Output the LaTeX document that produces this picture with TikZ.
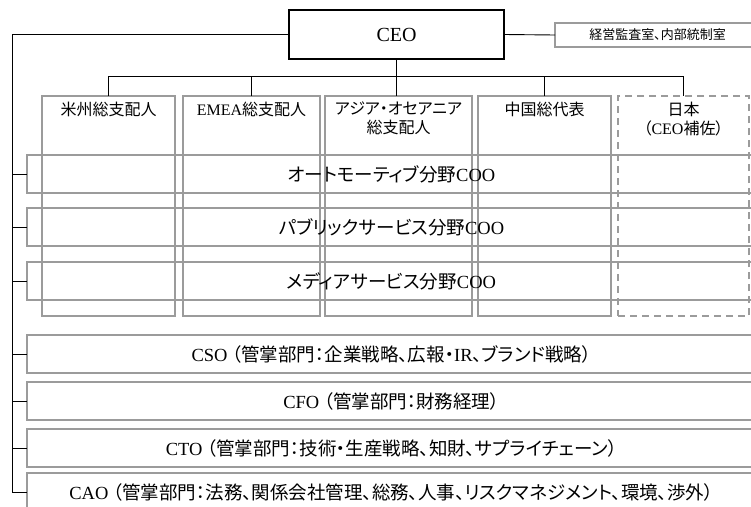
\documentclass[tikz,border=0pt]{standalone}
\usepackage{fontspec}
\setmainfont{Liberation Serif}
\newfontfamily\jp[RawFeature=+palt]{Noto Sans CJK JP}
\newcommand\J[1]{{\jp #1}}
\definecolor{boxgray}{RGB}{155,155,155}
\begin{document}
\begin{tikzpicture}[x=1pt,y=-1pt,
  graybox/.style={draw=boxgray, line width=1.6pt, rectangle, inner sep=0pt, outer sep=0pt},
  ceobox/.style={draw=black, line width=2.2pt, rectangle, inner sep=0pt, outer sep=0pt, font=\fontsize{20}{22}\selectfont},
  dashbox/.style={graybox, dash pattern=on 7pt off 5pt},
  collabel/.style={anchor=north, align=center, inner sep=0pt, font=\fontsize{16}{19}\selectfont},
  rowtext/.style={font=\fontsize{18.5}{21}\selectfont},
  conn/.style={draw=black, line width=0.9pt}]
\useasboundingbox (0,0) rectangle (751,506);
\clip (0,0) rectangle (751,506);

% top
\node[ceobox, minimum width=215pt, minimum height=49pt] (ceo) at (396.5,34.5) {CEO};
\node[graybox, minimum width=205pt, minimum height=24pt, font=\fontsize{13}{15}\selectfont\jp] (audit) at (657.5,35) {経営監査室、内部統制室};

% columns
\node[graybox, minimum width=133pt, minimum height=220pt] (c1) at (108.5,206) {};
\node[graybox, minimum width=137pt, minimum height=220pt] (c2) at (251.5,206) {};
\node[graybox, minimum width=147pt, minimum height=220pt] (c3) at (398.5,206) {};
\node[graybox, minimum width=133pt, minimum height=220pt] (c4) at (544.5,206) {};
\node[dashbox, minimum width=131pt, minimum height=220pt] (c5) at (683.5,206) {};

\node[collabel] (l1) at ([yshift=-6pt]c1.north) {\J{米州総支配人}};
\node[collabel] (l2) at ([yshift=-6pt]c2.north) {EMEA\J{総支配人}};
\node[collabel] (l3) at ([yshift=-6pt]c3.north) {\J{アジア・オセアニア}\\\J{総支配人}};
\node[collabel] (l4) at ([yshift=-6pt]c4.north) {\J{中国総代表}};
\node[collabel] (l5) at ([yshift=-6pt]c5.north) {\J{日本}\\\J{（}CEO\J{補佐）}};

% COO rows
\node[graybox, rowtext, minimum width=729pt, minimum height=38pt] (r1) at (391.5,174) {\J{オートモーティブ分野}COO};
\node[graybox, rowtext, minimum width=729pt, minimum height=38pt] (r2) at (391.5,227) {\J{パブリックサービス分野}COO};
\node[graybox, rowtext, minimum width=729pt, minimum height=38pt] (r3) at (391.5,281) {\J{メディアサービス分野}COO};

% officer rows
\node[graybox, rowtext, minimum width=729pt, minimum height=38pt] (cso) at (391.5,354) {CSO \J{（管掌部門：企業戦略、広報・}IR\J{、ブランド戦略）}};
\node[graybox, rowtext, minimum width=729pt, minimum height=38pt] (cfo) at (391.5,401) {CFO \J{（管掌部門：財務経理）}};
\node[graybox, rowtext, minimum width=729pt, minimum height=38pt] (cto) at (391.5,448) {CTO \J{（管掌部門：技術・生産戦略、知財、サプライチェーン）}};
\node[graybox, rowtext, minimum width=729pt, minimum height=38pt] (cao) at (391.5,492) {CAO \J{（管掌部門：法務、関係会社管理、総務、人事、リスクマネジメント、環境、渉外）}};

% connectors
\coordinate (bus) at (0,76);
\coordinate (spine) at (12,0);
\draw[conn] (ceo.east) -- (audit.west);
\draw[conn] (ceo.south) -- (ceo.south |- c3.north);
\draw[conn] (c1.north) -- (c1.north |- bus) -- (c5.north |- bus) -- (c5.north);
\draw[conn] (c2.north) -- (c2.north |- bus);
\draw[conn] (c4.north) -- (c4.north |- bus);
\draw[conn] (ceo.west) -- (ceo.west -| spine) -- (spine |- cao.west) -- (cao.west);
\draw[conn] (spine |- r1.west) -- (r1.west);
\draw[conn] (spine |- r2.west) -- (r2.west);
\draw[conn] (spine |- r3.west) -- (r3.west);
\draw[conn] (spine |- cso.west) -- (cso.west);
\draw[conn] (spine |- cfo.west) -- (cfo.west);
\draw[conn] (spine |- cto.west) -- (cto.west);
\end{tikzpicture}
\end{document}
